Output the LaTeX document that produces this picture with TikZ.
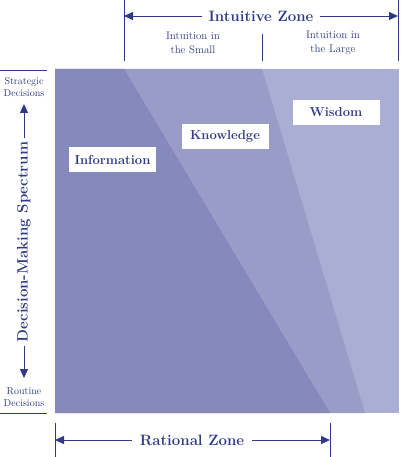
\documentclass[tikz,border=0pt]{standalone}
\usetikzlibrary{arrows.meta}
\definecolor{txt}{HTML}{2E3A87}
\definecolor{cdark}{HTML}{8589BB}
\definecolor{cmid}{HTML}{9A9CC8}
\definecolor{clight}{HTML}{AAADD4}
\begin{document}
\begin{tikzpicture}[x=1pt,y=-1pt,
  lbl/.style={fill=white,text=txt,font=\bfseries\fontsize{13}{15}\selectfont,inner sep=0pt,minimum height=25pt,minimum width=87pt},
  rule/.style={draw=txt,line width=0.9pt},
  arr/.style={draw=txt,line width=0.9pt,-{Triangle[length=9pt,width=8pt]}},
  small/.style={text=txt,font=\fontsize{11}{14}\selectfont,align=center},
  tiny/.style={text=txt,font=\fontsize{10}{12.5}\selectfont,align=center},
  big/.style={text=txt,font=\bfseries\fontsize{15}{18}\selectfont}]
\useasboundingbox (0,0) rectangle (400,457);
% regions
\fill[clight] (55,69) rectangle (399,413);
\fill[cmid] (55,69) -- (262,69) -- (365,413) -- (55,413) -- cycle;
\fill[cdark] (55,69) -- (124,69) -- (330,413) -- (55,413) -- cycle;
% labels
\node[lbl] (info) at (112.5,159.5) {Information};
\node[lbl] (know) at (225,136.5) {Knowledge};
\node[lbl] (wis) at (336,112.5) {Wisdom};
% top annotation
\coordinate (t1a) at (124,0); \coordinate (t1b) at (124,61);
\coordinate (t2a) at (398,0); \coordinate (t2b) at (398,61);
\coordinate (t3a) at (262,34); \coordinate (t3b) at (262,61);
\draw[rule] (t1a) -- (t1b);
\draw[rule] (t2a) -- (t2b);
\draw[rule] (t3a) -- (t3b);
\node[big,fill=white,inner xsep=6pt] (iz) at (261,16) {Intuitive Zone};
\coordinate (izl) at (124,16); \coordinate (izr) at (398,16);
\draw[arr] (iz.west) -- (izl);
\draw[arr] (iz.east) -- (izr);
\node[small] (is) at (193,43) {Intuition in\\the Small};
\node[small] (il) at (333,43) {Intuition in\\the Large};
% bottom annotation
\coordinate (b1a) at (55,423); \coordinate (b1b) at (55,457);
\coordinate (b2a) at (330,423); \coordinate (b2b) at (330,457);
\draw[rule] (b1a) -- (b1b);
\draw[rule] (b2a) -- (b2b);
\node[big,inner xsep=8pt] (rz) at (192,440) {Rational Zone};
\coordinate (rzl) at (55,440); \coordinate (rzr) at (330,440);
\draw[arr] (rz.west) -- (rzl);
\draw[arr] (rz.east) -- (rzr);
% left annotation
\coordinate (l1a) at (0,70); \coordinate (l1b) at (47,70);
\coordinate (l2a) at (0,413); \coordinate (l2b) at (47,413);
\draw[rule] (l1a) -- (l1b);
\draw[rule] (l2a) -- (l2b);
\node[tiny] (sd) at (24,87) {Strategic\\Decisions};
\node[tiny] (rd) at (24,397) {Routine\\Decisions};
\node[big,rotate=90,inner xsep=4pt] (dms) at (24,242) {Decision-Making Spectrum};
\coordinate (up) at (24,104); \coordinate (dn) at (24,378);
\draw[arr] (dms.east) -- (up);
\draw[arr] (dms.west) -- (dn);
\end{tikzpicture}
\end{document}
